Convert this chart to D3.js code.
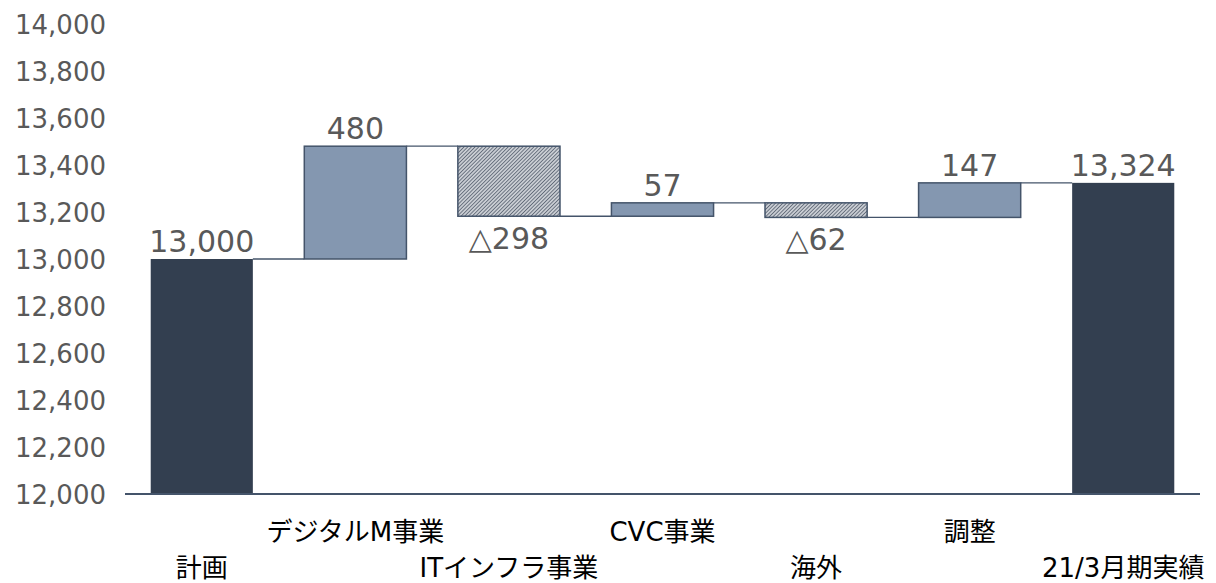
<!DOCTYPE html>
<html><head><meta charset="utf-8">
<script src="https://cdn.jsdelivr.net/npm/d3@7"></script>
<style>body{margin:0;background:#fff;} svg{display:block;}</style>
</head><body>
<svg id="c" width="1216" height="583"></svg>
<script>
const categories = ["計画","デジタルM事業","ITインフラ事業","CVC事業","海外","調整","21/3月期実績"];
const deltas = [13000, 480, -298, 57, -62, 147, 13324];
const kinds = ["total","up","down","up","down","up","total"];
const valueLabels = ["13,000","480","△298","57","△62","147","13,324"];
const yTicks = [12000,12200,12400,12600,12800,13000,13200,13400,13600,13800,14000];

const svg = d3.select("#c");
const W = 1216, H = 583;
const m = {left:125, right:16, top:24, bottom:89};
const x = d3.scaleBand().domain(categories).range([m.left, W - m.right]).paddingInner(0.335).paddingOuter(0.1675);
const y = d3.scaleLinear().domain([12000,14000]).range([H - m.bottom, m.top]);

let run = 0;
const segs = categories.map((c,i)=>{
  let y0, y1;
  if (kinds[i]==="total") { y0 = 12000; y1 = deltas[i]; run = deltas[i]; }
  else { y0 = run; y1 = run + deltas[i]; run = y1; }
  return {c, i, y0, y1, kind:kinds[i], end: run, label: valueLabels[i]};
});

const defs = svg.append("defs");
const pat = defs.append("pattern").attr("id","hatch").attr("patternUnits","userSpaceOnUse")
  .attr("width",2.6).attr("height",2.6).attr("patternTransform","rotate(45)");
pat.append("rect").attr("width",2.6).attr("height",2.6).attr("fill","#c9cdd3");
pat.append("line").attr("x1",0).attr("y1",0).attr("x2",0).attr("y2",2.6).attr("stroke","#3f4a5a").attr("stroke-width",1.3);

const yAxis = d3.axisLeft(y).tickValues(yTicks).tickSize(0).tickPadding(0).tickFormat(d3.format(","));
const ga = svg.append("g").attr("transform",`translate(106,0)`).call(yAxis);
ga.select(".domain").remove();
ga.selectAll("text").attr("fill","#595959").style("font-family","'DejaVu Sans', Verdana, sans-serif").style("font-size","26px").attr("dy","0.36em");

for (let i=0;i<segs.length-1;i++){
  const lvl = segs[i].end;
  svg.append("line")
    .attr("x1", x(categories[i]) + x.bandwidth()).attr("x2", x(categories[i+1]))
    .attr("y1", y(lvl)).attr("y2", y(lvl))
    .attr("stroke","#44546A").attr("stroke-width",1.3);
}

svg.selectAll("rect.bar").data(segs).join("rect").attr("class","bar")
  .attr("x", d=>x(d.c)).attr("width", x.bandwidth())
  .attr("y", d=>y(Math.max(d.y0,d.y1))).attr("height", d=>Math.abs(y(d.y0)-y(d.y1)))
  .attr("fill", d=> d.kind==="total" ? "#333F50" : d.kind==="up" ? "#8497B0" : "url(#hatch)")
  .attr("stroke", d=> d.kind==="total" ? "none" : "#44546A")
  .attr("stroke-width", 1.5);

svg.append("line").attr("x1",m.left).attr("x2",W-m.right).attr("y1",y(12000)).attr("y2",y(12000))
  .attr("stroke","#44546A").attr("stroke-width",2);

svg.selectAll("text.val").data(segs).join("text").attr("class","val")
  .attr("x", d=>x(d.c)+x.bandwidth()/2)
  .attr("y", d=> d.kind==="down" ? y(Math.min(d.y0,d.y1)) + 33 : y(Math.max(d.y0,d.y1)) - 7)
  .attr("text-anchor","middle").attr("fill","#595959")
  .style("font-family","'DejaVu Sans', Verdana, 'Noto Sans CJK JP', sans-serif").style("font-size","30px")
  .text(d=>d.label);

svg.selectAll("text.cat").data(categories).join("text").attr("class","cat")
  .attr("x", d=>x(d)+x.bandwidth()/2)
  .attr("y", (d,i)=> i%2===0 ? 577 : 541)
  .attr("text-anchor","middle").attr("fill","#000")
  .style("font-family","'DejaVu Sans', 'Noto Sans CJK JP', sans-serif").style("font-size","26px")
  .text(d=>d);
</script>
</body></html>
